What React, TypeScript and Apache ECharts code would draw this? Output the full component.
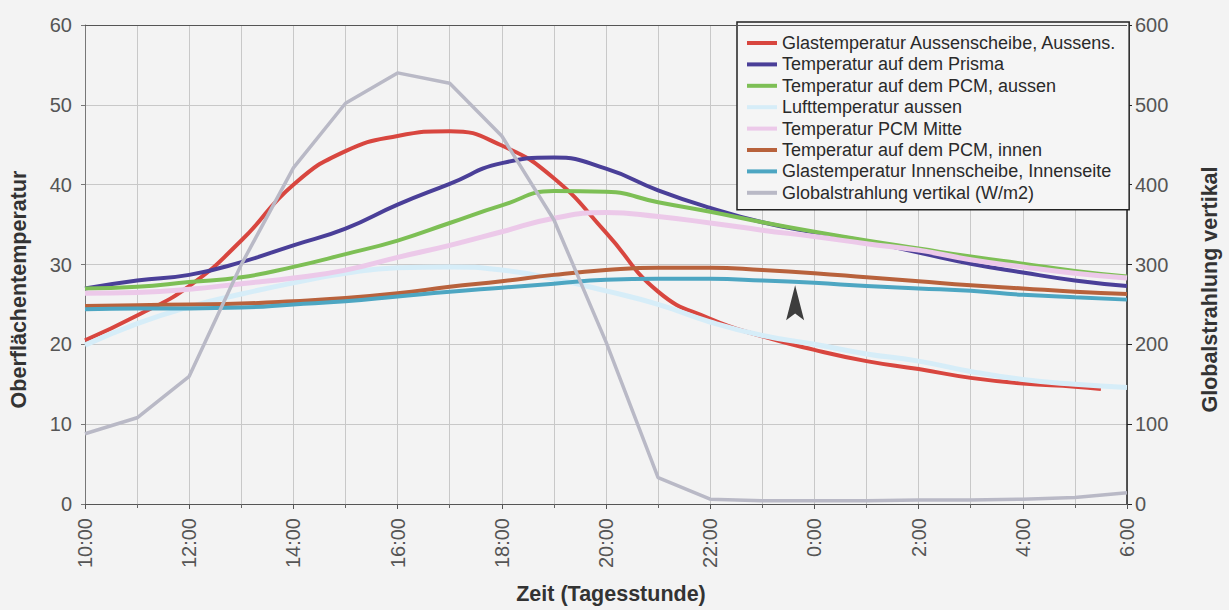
import React, { useEffect, useRef } from "react";
import * as echarts from "echarts";

// hours after 10:00 (0 = 10:00 ... 20 = 6:00)
const hours = [0, 1, 2, 3, 4, 5, 6, 7, 8, 9, 10, 11, 12, 13, 14, 15, 16, 17, 18, 19, 20];
const redHours = [0, 1, 2, 3, 4, 5, 6, 7, 8, 9, 10, 11, 12, 13, 14, 15, 16, 17, 18, 19, 19.5];

const seriesNames = [
  "Glastemperatur Aussenscheibe, Aussens.",
  "Temperatur auf dem Prisma",
  "Temperatur auf dem PCM, aussen",
  "Lufttemperatur aussen",
  "Temperatur PCM Mitte",
  "Temperatur auf dem PCM, innen",
  "Glastemperatur Innenscheibe, Innenseite",
  "Globalstrahlung vertikal (W/m2)",
];

const glasAussen = [20.5, 23.6, 27.3, 33.0, 40.0, 44.2, 46.1, 46.7, 44.9, 40.8, 34.0, 26.6, 23.2, 21.0, 19.3, 17.9, 16.9, 15.8, 15.1, 14.7, 14.4];
const prisma = [27.0, 28.0, 28.7, 30.3, 32.4, 34.5, 37.5, 40.1, 42.7, 43.4, 42.0, 39.3, 37.1, 35.3, 34.0, 32.9, 31.5, 30.1, 29.0, 28.0, 27.3];
const pcmAussen = [27.0, 27.2, 27.8, 28.4, 29.7, 31.3, 33.0, 35.2, 37.4, 39.2, 39.1, 37.8, 36.6, 35.3, 34.1, 33.0, 32.0, 31.0, 30.1, 29.2, 28.5];
const luftAussen = [19.9, 22.6, 24.7, 26.3, 27.7, 28.9, 29.6, 29.7, 29.3, 28.2, 26.7, 25.0, 22.8, 21.1, 20.0, 18.8, 17.9, 16.6, 15.6, 15.0, 14.6];
const pcmMitte = [26.4, 26.5, 26.9, 27.6, 28.3, 29.3, 30.9, 32.4, 34.1, 35.8, 36.5, 36.0, 35.2, 34.3, 33.5, 32.6, 31.8, 30.6, 29.7, 28.9, 28.3];
const pcmInnen = [24.8, 24.9, 25.0, 25.1, 25.4, 25.8, 26.4, 27.2, 27.9, 28.7, 29.3, 29.6, 29.6, 29.3, 28.9, 28.4, 27.9, 27.4, 27.0, 26.6, 26.3];
const glasInnen = [24.4, 24.5, 24.5, 24.6, 25.0, 25.4, 26.0, 26.6, 27.1, 27.6, 28.1, 28.2, 28.2, 28.0, 27.7, 27.3, 27.0, 26.7, 26.2, 25.9, 25.6];
const globalstrahlung = [88, 108, 160, 300, 421, 502, 540, 527, 461, 356, 203, 33, 6, 4, 4, 4, 5, 5, 6, 8, 14];

const colors = ["#d8463f", "#4a3f98", "#7dbf55", "#d6edf8", "#ecc9e9", "#b8623c", "#4da6c2", "#b9b9c6"];
const widths = [4, 4, 4, 5, 5, 4, 4, 3.5];

// annotation arrow position (hours after 10:00, °C)
const arrowCoord = [13.63, 25.2];

const FONT = "'Liberation Sans', Arial, sans-serif";

function pairs(xs: number[], ys: number[]) {
  return ys.map((y, i) => [xs[i], y]);
}

export default function App() {
  const ref = useRef<HTMLDivElement>(null);

  useEffect(() => {
    if (!ref.current) return;
    const chart = echarts.init(ref.current, undefined, { renderer: "svg" });
    const temps = [glasAussen, prisma, pcmAussen, luftAussen, pcmMitte, pcmInnen, glasInnen];
    const series: any[] = temps.map((vals, i) => ({
      name: seriesNames[i],
      type: "line",
      yAxisIndex: 0,
      data: pairs(i === 0 ? redHours : hours, vals),
      smooth: 0.5,
      showSymbol: false,
      lineStyle: { color: colors[i], width: widths[i] },
      itemStyle: { color: colors[i] },
    }));
    series[0].markLine = {
      silent: true,
      symbol: "none",
      label: { show: false },
      lineStyle: { color: "#555", width: 1, type: "solid" },
      data: [{ yAxis: 60 }],
    };
    series[6].markPoint = {
      silent: true,
      symbol: "path://M10 0 L20 36 L10 29 L0 36 Z",
      symbolSize: [18, 35],
      itemStyle: { color: "#3d3d3d" },
      label: { show: false },
      data: [{ coord: arrowCoord }],
    };
    series.push({
      name: seriesNames[7],
      type: "line",
      yAxisIndex: 1,
      data: pairs(hours, globalstrahlung),
      smooth: false,
      showSymbol: false,
      lineStyle: { color: colors[7], width: widths[7] },
      itemStyle: { color: colors[7] },
    });

    const nameStyle = { fontSize: 21.5, fontWeight: "bold", color: "#333", fontFamily: FONT };

    chart.setOption({
      animation: false,
      backgroundColor: "#f3f3f3",
      textStyle: { fontFamily: FONT },
      grid: { left: 83, right: 99, top: 25, bottom: 105, containLabel: false },
      legend: {
        orient: "vertical",
        left: 737,
        top: 22,
        icon: "rect",
        itemWidth: 30,
        itemHeight: 4,
        itemGap: 3.4,
        padding: [12, 12, 8, 10],
        backgroundColor: "#f5f5f5",
        borderColor: "#222",
        borderWidth: 1.5,
        borderRadius: 0,
        textStyle: { fontSize: 18, lineHeight: 18, color: "#2a2a2a", fontFamily: FONT },
        data: seriesNames,
      },
      xAxis: {
        type: "value",
        min: 0,
        max: 20,
        interval: 2,
        name: "Zeit (Tagesstunde)",
        nameLocation: "middle",
        nameGap: 79,
        nameTextStyle: { ...nameStyle, padding: [0, 0, 0, 10] },
        axisLine: { show: true, onZero: false, lineStyle: { color: "#555", width: 1 } },
        axisTick: { show: true, length: 5, lineStyle: { color: "#555" } },
        minorTick: { show: true, splitNumber: 2, length: 4, lineStyle: { color: "#666" } },
        axisLabel: {
          rotate: 90,
          margin: 14,
          fontSize: 20,
          color: "#555",
          fontFamily: FONT,
          formatter: (v: number) => `${(10 + v) % 24}:00`,
        },
        splitLine: { show: true, lineStyle: { color: "#c8c8c8", width: 1 } },
        minorSplitLine: { show: true, lineStyle: { color: "#c8c8c8", width: 1 } },
      },
      yAxis: [
        {
          type: "value",
          min: 0,
          max: 60,
          interval: 10,
          position: "left",
          name: "Oberflächentemperatur",
          nameLocation: "middle",
          nameRotate: 90,
          nameGap: 55,
          nameTextStyle: { ...nameStyle, padding: [0, 50, 0, 0] },
          axisLine: { show: true, lineStyle: { color: "#777", width: 1 } },
          axisTick: { show: true, length: 4, lineStyle: { color: "#777" } },
          axisLabel: { margin: 13, fontSize: 20, color: "#555", fontFamily: FONT },
          splitLine: { show: true, lineStyle: { color: "#c8c8c8", width: 1 } },
        },
        {
          type: "value",
          min: 0,
          max: 600,
          interval: 100,
          position: "right",
          name: "Globalstrahlung vertikal",
          nameLocation: "middle",
          nameRotate: 90,
          nameGap: 72,
          nameTextStyle: { ...nameStyle, padding: [0, 50, 0, 0] },
          axisLine: { show: true, lineStyle: { color: "#222", width: 1.5 } },
          axisTick: { show: true, length: 5, lineStyle: { color: "#222" } },
          axisLabel: { margin: 8, fontSize: 20, color: "#555", fontFamily: FONT },
          splitLine: { show: false },
        },
      ],
      series,
    });
    return () => chart.dispose();
  }, []);

  return (
    <div style={{ position: "fixed", left: 0, top: 0, width: 1229, height: 610, background: "#f3f3f3" }}>
      <div ref={ref} style={{ width: 1229, height: 610 }} />
    </div>
  );
}
